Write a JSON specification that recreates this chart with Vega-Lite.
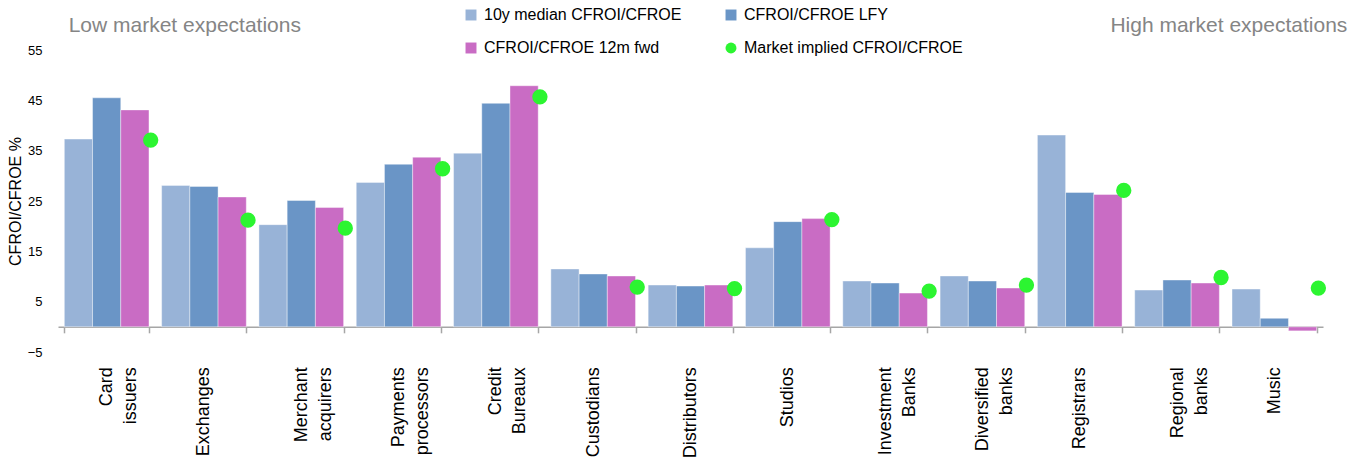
{
  "$schema": "https://vega.github.io/schema/vega-lite/v6.json",
  "autosize": "none",
  "width": 1265,
  "height": 302,
  "padding": {"left": 58, "top": 50, "right": 32, "bottom": 108},
  "background": "white",
  "config": {
    "view": {"stroke": null},
    "font": "Liberation Sans",
    "text": {"font": "Liberation Sans"},
    "legend": {
      "title": null,
      "orient": "none",
      "direction": "horizontal",
      "legendX": 405,
      "legendY": -43,
      "columns": 2,
      "columnPadding": 41,
      "rowPadding": 17,
      "symbolSize": 120,
      "symbolStrokeWidth": 0,
      "labelOffset": 5,
      "labelFont": "Liberation Sans",
      "labelFontSize": 16,
      "labelColor": "#000000",
      "labelLimit": 400
    }
  },
  "data": {
    "values": [
      {"category": "Card issuers", "median": 37.3, "lfy": 45.5, "fwd": 43.1, "implied": 37.1},
      {"category": "Exchanges", "median": 28.1, "lfy": 27.9, "fwd": 25.8, "implied": 21.2},
      {"category": "Merchant acquirers", "median": 20.3, "lfy": 25.1, "fwd": 23.7, "implied": 19.6},
      {"category": "Payments processors", "median": 28.7, "lfy": 32.3, "fwd": 33.7, "implied": 31.4},
      {"category": "Credit Bureaux", "median": 34.5, "lfy": 44.4, "fwd": 47.9, "implied": 45.7},
      {"category": "Custodians", "median": 11.5, "lfy": 10.5, "fwd": 10.1, "implied": 7.9},
      {"category": "Distributors", "median": 8.3, "lfy": 8.1, "fwd": 8.3, "implied": 7.6},
      {"category": "Studios", "median": 15.7, "lfy": 20.9, "fwd": 21.5, "implied": 21.3},
      {"category": "Investment Banks", "median": 9.1, "lfy": 8.7, "fwd": 6.7, "implied": 7.1},
      {"category": "Diversified banks", "median": 10.1, "lfy": 9.1, "fwd": 7.7, "implied": 8.3},
      {"category": "Registrars", "median": 38.1, "lfy": 26.7, "fwd": 26.3, "implied": 27.1},
      {"category": "Regional banks", "median": 7.3, "lfy": 9.3, "fwd": 8.7, "implied": 9.8},
      {"category": "Music", "median": 7.5, "lfy": 1.7, "fwd": -0.8, "implied": 7.7}
    ]
  },
  "encoding": {
    "x": {
      "field": "category",
      "type": "nominal",
      "sort": null,
      "scale": {"paddingInner": 0.13, "paddingOuter": 0.065},
      "axis": {
        "title": null,
        "offset": -25.2,
        "domainColor": "#a6a6a6",
        "domainWidth": 1.5,
        "tickColor": "#a6a6a6",
        "tickWidth": 1.5,
        "tickSize": 6,
        "tickBand": "extent",
        "labelAngle": 270,
        "labelAlign": "right",
        "labelBaseline": "middle",
        "labelPadding": 34,
        "labelFont": "Liberation Sans",
        "labelFontSize": 18,
        "labelLineHeight": 24,
        "labelColor": "#000000",
        "labelLimit": 200,
        "labelExpr": "length(split(datum.label, ' ')) > 1 ? [pad(split(datum.label, ' ')[0], max(length(split(datum.label, ' ')[0]), length(split(datum.label, ' ')[1])), '\u00a0', 'center'), pad(split(datum.label, ' ')[1], max(length(split(datum.label, ' ')[0]), length(split(datum.label, ' ')[1])), '\u00a0', 'center')] : datum.label"
      }
    }
  },
  "layer": [
    {
      "transform": [{"fold": ["median", "lfy", "fwd"], "as": ["series", "value"]}],
      "mark": {"type": "bar", "stroke": "#ffffff", "strokeWidth": 0.8, "strokeOpacity": 0.5},
      "encoding": {
        "xOffset": {"field": "series", "type": "nominal", "scale": {"domain": ["median", "lfy", "fwd"], "paddingInner": 0, "paddingOuter": 0}},
        "y": {
          "field": "value",
          "type": "quantitative",
          "scale": {"domain": [-5, 55], "nice": false, "zero": false},
          "axis": {
            "title": "CFROI/CFROE %",
            "titleFont": "Liberation Sans",
            "titleFontSize": 16,
            "titleFontWeight": "normal",
            "titleColor": "#000000",
            "titlePadding": 4,
            "values": [-5, 5, 15, 25, 35, 45, 55],
            "domain": false,
            "ticks": false,
            "grid": false,
            "labelPadding": 16,
            "labelFont": "Liberation Sans",
            "labelFontSize": 13,
            "labelColor": "#000000"
          }
        },
        "color": {
          "field": "series",
          "type": "nominal",
          "scale": {
            "domain": ["median", "lfy", "fwd", "implied"],
            "range": ["#98b3d7", "#6a95c6", "#c96cc4", "#2cf531"]
          },
          "legend": {
            "labelExpr": "datum.label == 'median' ? '10y median CFROI/CFROE' : datum.label == 'lfy' ? 'CFROI/CFROE LFY' : datum.label == 'fwd' ? 'CFROI/CFROE 12m fwd' : 'Market implied CFROI/CFROE'"
          }
        }
      }
    },
    {
      "transform": [{"fold": ["implied"], "as": ["series", "value"]}],
      "mark": {"type": "point", "filled": true, "opacity": 1, "size": 235},
      "encoding": {
        "x": {"field": "category", "type": "nominal", "sort": null, "bandPosition": 1.02},
        "y": {"field": "value", "type": "quantitative"},
        "color": {"field": "series", "type": "nominal"},
        "shape": {
          "field": "series",
          "type": "nominal",
          "scale": {
            "domain": ["median", "lfy", "fwd", "implied"],
            "range": ["square", "square", "square", "circle"]
          },
          "legend": {
            "labelExpr": "datum.label == 'median' ? '10y median CFROI/CFROE' : datum.label == 'lfy' ? 'CFROI/CFROE LFY' : datum.label == 'fwd' ? 'CFROI/CFROE 12m fwd' : 'Market implied CFROI/CFROE'"
          }
        }
      }
    },
    {
      "data": {"values": [{}]},
      "mark": {"type": "text", "text": "Low market expectations", "align": "left", "baseline": "alphabetic", "dx": -38, "fontSize": 21, "color": "#858585", "font": "Liberation Sans"},
      "encoding": {
        "x": {"datum": "Card issuers"},
        "y": {"datum": 58.6}
      }
    },
    {
      "data": {"values": [{}]},
      "mark": {"type": "text", "text": "High market expectations", "align": "right", "baseline": "alphabetic", "dx": 73, "fontSize": 21, "color": "#858585", "font": "Liberation Sans"},
      "encoding": {
        "x": {"datum": "Music"},
        "y": {"datum": 58.6}
      }
    }
  ]
}
